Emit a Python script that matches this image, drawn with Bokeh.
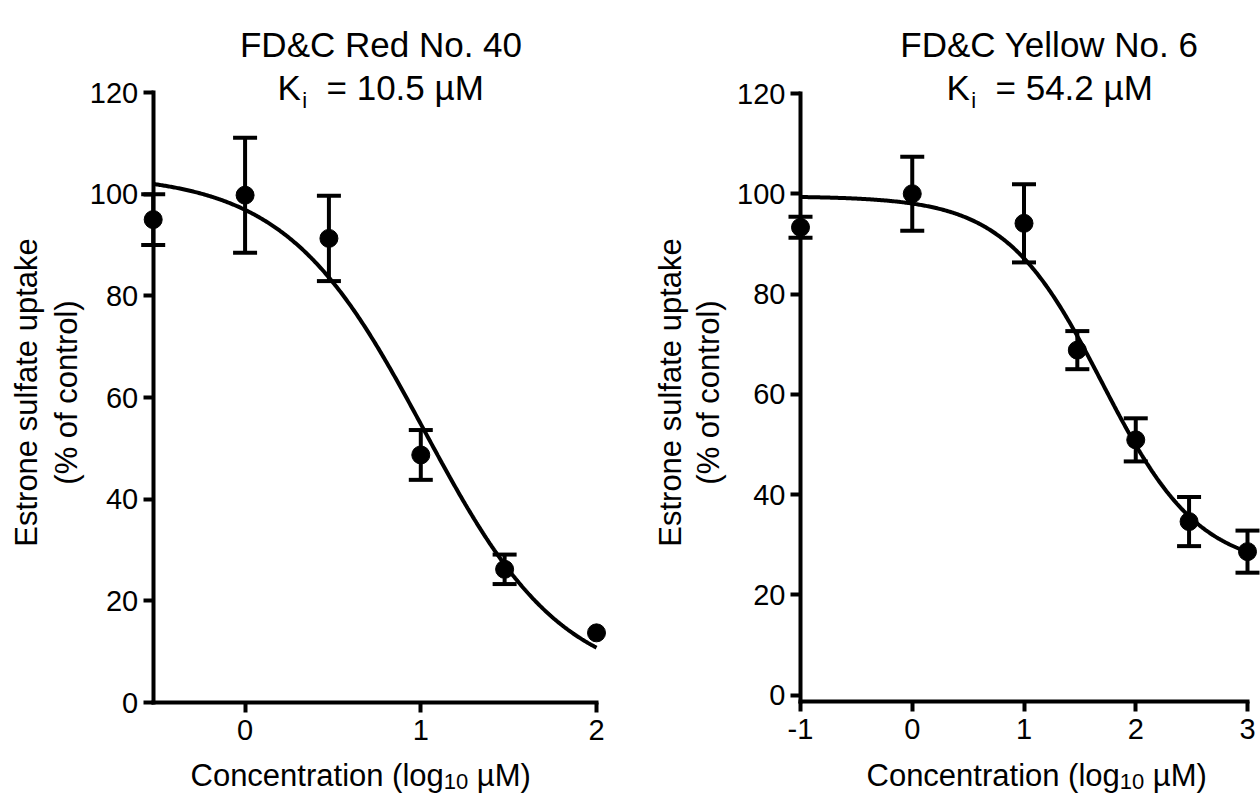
import numpy as np
from bokeh.plotting import figure
from bokeh.models import ColumnDataSource, Whisker, TeeHead, FixedTicker, Label, Range1d
from bokeh.layouts import row
from bokeh.embed import file_html
from bokeh.resources import INLINE

# ---------------- data ----------------
red_title = "FD&C Red No. 40"
red_ki = "= 10.5 µM"
red_logconc = [-0.5229, 0.0, 0.4771, 1.0, 1.4771, 2.0]
red_mean = [95.0, 99.8, 91.3, 48.7, 26.2, 13.7]
red_sem = [5.0, 11.3, 8.4, 4.9, 2.9, 0.8]
red_fit_top, red_fit_bottom, red_fit_logic50, red_fit_hill = 104.0, 3.0, 1.02, 1.1

yellow_title = "FD&C Yellow No. 6"
yellow_ki = "= 54.2 µM"
yellow_logconc = [-1.0, 0.0, 1.0, 1.4771, 2.0, 2.4771, 3.0]
yellow_mean = [93.3, 100.0, 94.1, 68.8, 50.9, 34.6, 28.6]
yellow_sem = [2.1, 7.4, 7.8, 3.8, 4.3, 4.9, 4.2]
yellow_fit_top, yellow_fit_bottom, yellow_fit_logic50, yellow_fit_hill = 99.5, 25.0, 1.70, 1.0

y_ticks = [0, 20, 40, 60, 80, 100, 120]
red_x_ticks = [0, 1, 2]
yellow_x_ticks = [-1, 0, 1, 2, 3]

y_title_1 = "Estrone sulfate uptake"
y_title_2 = "(% of control)"
x_title_a = "Concentration (log"
x_title_sub = "10"
x_title_b = "µM)"

FONT = "Liberation Sans"

# Arial / Liberation Sans advance widths (1/1000 em) for layout of composed texts
AW = {' ': 278, '&': 667, '(': 333, ')': 333, '.': 278, '=': 584, '%': 889, '-': 333,
      'C': 722, 'D': 722, 'E': 667, 'F': 611, 'K': 667, 'M': 833, 'N': 722, 'R': 722,
      'Y': 667, 'a': 556, 'c': 500, 'd': 556, 'e': 556, 'f': 278, 'g': 556, 'i': 222,
      'k': 500, 'l': 222, 'n': 556, 'o': 556, 'p': 556, 'r': 333, 's': 500, 't': 278,
      'u': 556, 'w': 722, 'µ': 576}

FIG_W, FIG_H = 630, 793


def tw(s, size):
    return sum(AW.get(c, 556) for c in s) * size / 1000.0


def logistic(x, top, bottom, logic50, hill):
    return bottom + (top - bottom) / (1.0 + 10.0 ** (hill * (x - logic50)))


def panel(title, ki, xs, means, sems, fit, xticks, L):
    fx0 = L["fig_left"]
    sx = (L["ax_px1"] - L["ax_px0"]) / (L["ax_x1"] - L["ax_x0"])
    x_start = L["ax_x0"] - (L["ax_px0"] - fx0) / sx
    x_end = x_start + FIG_W / sx
    sy = (L["y0_px"] - L["y120_px"]) / 120.0
    y_end = 120.0 + L["y120_px"] / sy
    y_start = y_end - FIG_H / sy
    x_axis_loc = 0.0 - (L["xaxis_px"] - L["y0_px"]) / sy

    p = figure(frame_width=FIG_W, frame_height=FIG_H,
               min_border=0, min_border_left=0, min_border_right=0,
               min_border_top=0, min_border_bottom=0,
               x_range=Range1d(x_start, x_end), y_range=Range1d(y_start, y_end),
               output_backend="svg", toolbar_location=None, tools="")
    p.outline_line_color = None
    p.grid.visible = False
    p.background_fill_color = "white"
    p.border_fill_color = "white"

    for ax in (p.xaxis[0], p.yaxis[0]):
        ax.axis_line_width = 4
        ax.axis_line_color = "black"
        ax.axis_line_cap = "square"
        ax.major_tick_line_width = 4
        ax.major_tick_line_color = "black"
        ax.major_tick_in = 0
        ax.major_tick_out = 10
        ax.minor_tick_line_color = None
        ax.major_label_text_font = FONT
        ax.major_label_text_font_size = "29px"
        ax.major_label_text_color = "black"
    p.xaxis[0].ticker = FixedTicker(ticks=xticks)
    p.xaxis[0].bounds = (L["ax_x0"], L["ax_x1"])
    p.xaxis[0].fixed_location = x_axis_loc
    p.xaxis[0].major_label_standoff = 7
    p.xaxis[0].major_label_overrides = {t: str(t) for t in xticks}
    p.yaxis[0].ticker = FixedTicker(ticks=y_ticks)
    p.yaxis[0].bounds = (x_axis_loc, 120)
    p.yaxis[0].fixed_location = L["ax_x0"]
    p.yaxis[0].major_label_standoff = 5

    # fitted curve
    cx = np.linspace(xs[0], xs[-1], 400)
    cy = logistic(cx, *fit)
    p.line(cx, cy, line_width=4, line_color="black")

    # error bars (hidden when shorter than the symbol, as in the original)
    radius_px = 8.5
    keep = [i for i in range(len(xs)) if sems[i] * sy > radius_px]
    src = ColumnDataSource(dict(
        x=[xs[i] for i in keep],
        upper=[means[i] + sems[i] for i in keep],
        lower=[means[i] - sems[i] for i in keep]))
    w = Whisker(base="x", upper="upper", lower="lower", source=src, dimension="height",
                line_width=4, line_color="black",
                upper_head=TeeHead(size=24, line_width=4, line_color="black"),
                lower_head=TeeHead(size=24, line_width=4, line_color="black"))
    p.add_layout(w)
    p.scatter(xs, means, size=18, marker="circle", fill_color="black", line_color="black")

    # text placement helpers (canvas px -> data)
    def dx(px):
        return x_start + (px - fx0) / sx

    def dy(py):
        return y_end - py / sy

    def lab(text, px, py, size, align="left", angle=0.0):
        p.add_layout(Label(x=dx(px), y=dy(py), text=text, text_font=FONT,
                           text_font_size=f"{size}px", text_color="black",
                           text_align=align, text_baseline="alphabetic", angle=angle))

    tsz = 35
    lab(title, L["title_cx"], 43.5, tsz, align="center")
    k0 = L["ki_k_px"]
    lab("K", k0, 87, tsz)
    lab("i", k0 + tw("K", tsz) + 1.5, 100, 22)
    lab(ki, k0 + 49, 87, tsz)

    asz = 31
    x0 = L["xt_px"]
    base = 775
    lab(x_title_a, x0, base, asz)
    x1 = x0 + tw(x_title_a, asz)
    lab(x_title_sub, x1, base + 6, 22)
    lab(x_title_b, x1 + tw(x_title_sub, 22) + tw(" ", asz), base, asz)

    lab(y_title_1, L["yt1_px"], 392, asz, align="center", angle=np.pi / 2)
    lab(y_title_2, L["yt2_px"], 392, asz, align="center", angle=np.pi / 2)
    return p


LEFT = dict(fig_left=0,
            ax_x0=-0.5229, ax_px0=152.7, ax_x1=2.0, ax_px1=596.0,
            y0_px=702.0, y120_px=92.0, xaxis_px=702.0,
            title_cx=380.5, ki_k_px=277.0, xt_px=190.0, yt1_px=26.0, yt2_px=66.0)
RIGHT = dict(fig_left=630,
             ax_x0=-1.0, ax_px0=800.0, ax_x1=3.0, ax_px1=1247.0,
             y0_px=694.5, y120_px=93.0, xaxis_px=701.0,
             title_cx=1049.0, ki_k_px=946.0, xt_px=866.0, yt1_px=670.0, yt2_px=708.0)

p1 = panel(red_title, red_ki, red_logconc, red_mean, red_sem,
           (red_fit_top, red_fit_bottom, red_fit_logic50, red_fit_hill), red_x_ticks, LEFT)
p2 = panel(yellow_title, yellow_ki, yellow_logconc, yellow_mean, yellow_sem,
           (yellow_fit_top, yellow_fit_bottom, yellow_fit_logic50, yellow_fit_hill),
           yellow_x_ticks, RIGHT)

layout = row(p1, p2)
with open("out.html", "w") as f:
    f.write(file_html(layout, INLINE))
